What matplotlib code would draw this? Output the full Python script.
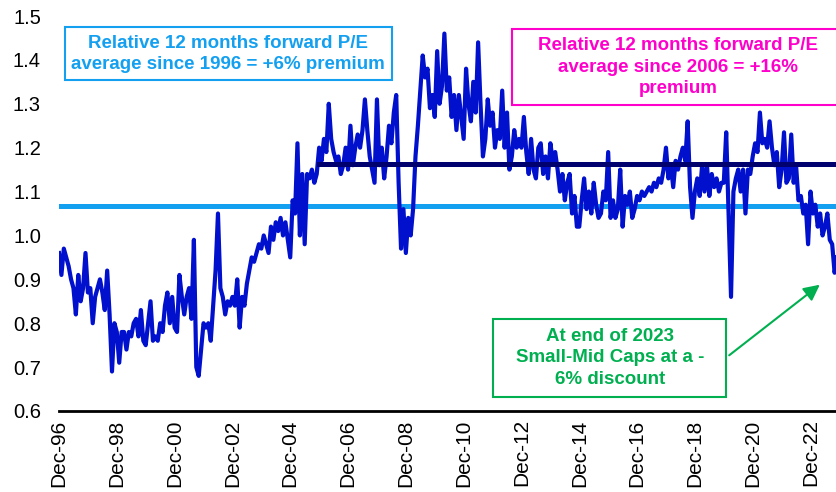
import numpy as np
import matplotlib
matplotlib.use("Agg")
import matplotlib.pyplot as plt
from matplotlib.patches import Rectangle

plt.rcParams['font.family'] = ['Liberation Sans', 'DejaVu Sans']

# Relative 12m forward P/E, small-mid caps vs large caps, monthly from Dec-96
# (each row starts at December)
rel_pe = [
    0.96, 0.91, 0.97, 0.95, 0.93, 0.90, 0.88, 0.82, 0.91, 0.85, 0.88, 0.96,   # Dec-96
    0.87, 0.88, 0.80, 0.86, 0.88, 0.90, 0.87, 0.83, 0.92, 0.82, 0.69, 0.80,   # Dec-97
    0.78, 0.71, 0.78, 0.78, 0.74, 0.78, 0.77, 0.80, 0.81, 0.77, 0.83, 0.76,   # Dec-98
    0.75, 0.80, 0.85, 0.76, 0.77, 0.76, 0.80, 0.78, 0.84, 0.87, 0.80, 0.86,   # Dec-99
    0.79, 0.78, 0.91, 0.86, 0.82, 0.86, 0.88, 0.81, 0.99, 0.70, 0.68, 0.74,   # Dec-00
    0.80, 0.79, 0.80, 0.76, 0.84, 0.92, 1.05, 0.88, 0.86, 0.82, 0.85, 0.84,   # Dec-01
    0.86, 0.84, 0.90, 0.79, 0.86, 0.84, 0.89, 0.92, 0.95, 0.94, 0.96, 0.98,   # Dec-02
    0.97, 1.00, 0.98, 0.96, 1.02, 0.99, 1.03, 1.01, 1.04, 1.00, 1.03, 0.99,   # Dec-03
    0.95, 1.08, 1.05, 1.21, 1.00, 1.14, 0.98, 1.14, 1.13, 1.15, 1.12, 1.14,   # Dec-04
    1.20, 1.17, 1.22, 1.19, 1.30, 1.22, 1.19, 1.17, 1.18, 1.14, 1.16, 1.20,   # Dec-05
    1.15, 1.25, 1.16, 1.20, 1.23, 1.20, 1.24, 1.31, 1.24, 1.18, 1.15, 1.12,   # Dec-06
    1.31, 1.16, 1.20, 1.13, 1.18, 1.25, 1.21, 1.28, 1.32, 1.12, 0.97, 1.06,   # Dec-07
    0.96, 1.04, 1.00, 1.06, 1.18, 1.25, 1.33, 1.41, 1.36, 1.38, 1.29, 1.32,   # Dec-08
    1.27, 1.42, 1.30, 1.34, 1.46, 1.33, 1.36, 1.27, 1.32, 1.24, 1.32, 1.27,   # Dec-09
    1.22, 1.38, 1.30, 1.26, 1.35, 1.28, 1.44, 1.30, 1.18, 1.22, 1.31, 1.25,   # Dec-10
    1.28, 1.20, 1.24, 1.22, 1.33, 1.20, 1.28, 1.15, 1.18, 1.24, 1.20, 1.22,   # Dec-11
    1.20, 1.27, 1.19, 1.14, 1.22, 1.15, 1.13, 1.20, 1.21, 1.14, 1.18, 1.13,   # Dec-12
    1.21, 1.17, 1.19, 1.15, 1.10, 1.14, 1.08, 1.12, 1.14, 1.05, 1.09, 1.02,   # Dec-13
    1.02, 1.08, 1.13, 1.06, 1.10, 1.05, 1.12, 1.07, 1.04, 1.05, 1.10, 1.08,   # Dec-14
    1.19, 1.04, 1.08, 1.04, 1.06, 1.15, 1.02, 1.09, 1.07, 1.10, 1.04, 1.06,   # Dec-15
    1.09, 1.08, 1.10, 1.09, 1.10, 1.11, 1.10, 1.12, 1.11, 1.13, 1.12, 1.15,   # Dec-16
    1.20, 1.13, 1.16, 1.11, 1.17, 1.15, 1.18, 1.20, 1.17, 1.26, 1.11, 1.04,   # Dec-17
    1.10, 1.13, 1.09, 1.16, 1.10, 1.16, 1.09, 1.14, 1.11, 1.13, 1.10, 1.12,   # Dec-18
    1.12, 1.235, 1.05, 0.86, 1.10, 1.13, 1.15, 1.10, 1.15, 1.05, 1.15, 1.14,  # Dec-19
    1.18, 1.21, 1.19, 1.28, 1.21, 1.22, 1.20, 1.26, 1.20, 1.16, 1.19, 1.11,   # Dec-20
    1.15, 1.235, 1.12, 1.13, 1.23, 1.12, 1.16, 1.08, 1.09, 1.05, 1.07, 0.98,  # Dec-21
    1.10, 1.05, 1.07, 1.02, 1.05, 1.00, 1.02, 1.05, 0.99, 0.98, 0.915, 0.95,  # Dec-22
]
avg_since_1996 = 1.066
avg_since_2006 = 1.163
avg_2006_start = 108  # month index of Dec-05
tick_labels = ['Dec-96', 'Dec-98', 'Dec-00', 'Dec-02', 'Dec-04', 'Dec-06', 'Dec-08',
               'Dec-10', 'Dec-12', 'Dec-14', 'Dec-16', 'Dec-18', 'Dec-20', 'Dec-22']

W, H = 837, 492
fig = plt.figure(figsize=(W / 100, H / 100), dpi=100)
ax = fig.add_axes([59 / W, 1 - 411 / H, 778 / W, 395 / H])

months = np.arange(len(rel_pe))
ax.plot(months, rel_pe, color='#0010CC', lw=3, solid_joinstyle='round', zorder=3)
ax.axhline(avg_since_1996, color='#14A0F0', lw=3.6, zorder=2)
ax.plot([avg_2006_start, len(rel_pe)], [avg_since_2006] * 2, color='#00006E', lw=3.6, zorder=4)

ax.set_xlim(0, 323)
ax.set_ylim(0.6, 1.5)
ax.set_yticks(np.arange(0.6, 1.51, 0.1))
ax.set_yticklabels([f'{v:.1f}' for v in np.arange(0.6, 1.51, 0.1)], fontsize=14.5)
ax.set_xticks(np.arange(0, 24 * len(tick_labels), 24))
ax.set_xticklabels(tick_labels, rotation=90, fontsize=15)
ax.tick_params(axis='both', length=0)
ax.tick_params(axis='y', pad=13)
ax.tick_params(axis='x', pad=6)
for s in ['top', 'right', 'left']:
    ax.spines[s].set_visible(False)
ax.spines['bottom'].set_linewidth(2)

# annotation boxes, in figure pixel units
def box(x0, y0, x1, y1, color):
    fig.patches.append(Rectangle((x0 / W, 1 - y1 / H), (x1 - x0) / W, (y1 - y0) / H,
                                 transform=fig.transFigure, fill=True, facecolor='white',
                                 edgecolor=color, lw=1.5, zorder=5))

def label(x, y, s, color):
    fig.text(x / W, 1 - y / H, s, color=color, fontsize=13.5, fontweight='bold',
             ha='center', va='center', linespacing=1.35, zorder=6)

box(65, 27, 392, 80, '#14A0F0')
label(228, 54, 'Relative 12 months forward P/E\naverage since 1996 = +6% premium', '#14A0F0')

box(512, 29, 845, 105, '#FF00CC')
label(678, 67, 'Relative 12 months forward P/E\naverage since 2006 = +16%\npremium', '#FF00CC')

box(493, 319, 726, 397, '#00B050')
label(610, 358, 'At end of 2023\nSmall-Mid Caps at a -\n6% discount', '#00B050')

ax.annotate('', xy=(822 / W, 1 - 283 / H), xytext=(727 / W, 1 - 357 / H),
            xycoords='figure fraction', textcoords='figure fraction',
            arrowprops=dict(arrowstyle='-|>', color='#00B050', lw=1.5, mutation_scale=24))

fig.savefig('out.png', dpi=100)
